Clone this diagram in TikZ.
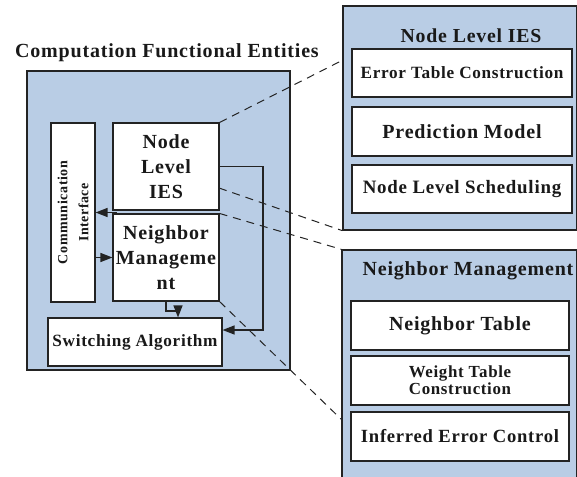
\documentclass[tikz,border=0pt]{standalone}
\usepackage{fontspec}
\setmainfont{Liberation Serif}[LetterSpace=4]
\usetikzlibrary{arrows.meta}
\definecolor{boxblue}{RGB}{185,205,229}
\definecolor{linegray}{RGB}{35,35,35}
\newcommand{\bsz}[1]{\fontsize{#1}{1.22\dimexpr #1pt\relax}\selectfont\bfseries}

\begin{document}
\begin{tikzpicture}[x=1pt,y=-1pt]
\tikzstyle{panel}=[draw=linegray, fill=boxblue, line width=1.3pt]
\tikzstyle{block}=[draw=linegray, fill=white, line width=1.1pt, align=center, inner sep=0pt, text=black!90]
\tikzstyle{caption}=[align=center, inner sep=0pt, text=black!90]
\tikzstyle{link}=[-{Triangle[length=12pt,width=9pt]}, line width=1.2pt, linegray]
\tikzstyle{zoom}=[dash pattern=on 8pt off 6pt, line width=1pt, linegray]

\useasboundingbox (0,0) rectangle (577,476);

\coordinate (cfe) at (158.5,220.5);
\coordinate (ci) at (73,212.5);
\coordinate (nli) at (166,166.5);
\coordinate (nm) at (166,257.5);
\coordinate (sw) at (135,342);

\coordinate (ies) at (460,118);
\coordinate (ies_etc) at (462,73);
\coordinate (ies_pm) at (462,131.5);
\coordinate (ies_nls) at (462,189);

\coordinate (nbm) at (459.5,370);
\coordinate (nbm_nt) at (460,325.5);
\coordinate (nbm_wtc) at (460,380.5);
\coordinate (nbm_iec) at (460,436.5);


% computation functional entities
\node[panel, minimum width=263pt, minimum height=299pt] (cfe) at (cfe) {};
\node[caption, font=\bsz{20}] (cfe_title) at (167,53) {Computation Functional Entities};

\node[block, minimum width=44pt, minimum height=179pt] (ci) at (ci) {};
\node[caption, rotate=90, font=\fontsize{14}{21}\selectfont\bfseries] (ci_text) at (ci) {Communication\\Interface};

\node[block, minimum width=106pt, minimum height=87pt, font=\fontsize{20}{25}\selectfont\bfseries] (nli) at (nli) {Node\\Level\\IES};
\node[block, minimum width=106pt, minimum height=87pt, font=\fontsize{20}{25}\selectfont\bfseries] (nm) at (nm) {Neighbor\\Manageme\\nt};
\node[block, minimum width=174pt, minimum height=48pt, font=\bsz{17.2}] (sw) at (sw) {Switching Algorithm};

% node level IES
\node[panel, minimum width=234pt, minimum height=224pt] (ies) at (ies) {};
\node[caption, font=\bsz{19.8}] (ies_title) at (471,36) {Node Level IES};
\node[block, minimum width=220pt, minimum height=48pt, font=\bsz{17.2}] (ies_etc) at (ies_etc) {Error Table Construction};
\node[block, minimum width=220pt, minimum height=49pt, font=\bsz{20}] (ies_pm) at (ies_pm) {Prediction Model};
\node[block, minimum width=220pt, minimum height=48pt, font=\bsz{18.9}] (ies_nls) at (ies_nls) {Node Level Scheduling};

% neighbor management
\node[panel, minimum width=235pt, minimum height=240pt] (nbm) at (nbm) {};
\node[caption, font=\bsz{20}] (nbm_title) at (468,271) {Neighbor Management};
\node[block, minimum width=218pt, minimum height=49pt, font=\bsz{20}] (nbm_nt) at (nbm_nt) {Neighbor Table};
\node[block, minimum width=218pt, minimum height=49pt, font=\fontsize{16.9}{17}\selectfont\bfseries] (nbm_wtc) at (nbm_wtc) {Weight Table\\Construction};
\node[block, minimum width=218pt, minimum height=49pt, font=\bsz{18.6}] (nbm_iec) at (nbm_iec) {Inferred Error Control};

% arrows inside the entities
\coordinate (bend) at (263,330);
\coordinate (gap) at (117,212.5);
\coordinate (elbow) at (178,311);

\draw[link] (nli.east) -| (bend) -- (bend -| sw.east);
\draw[link] (gap) -- (ci.east);
\draw[link] (ci.east |- nm.west) -- (nm.west);
\draw[link] (nm.south) |- (elbow) -- (elbow |- sw.north);

% dashed zoom lines
\coordinate (nli_out) at (219,188);
\coordinate (ies_in) at (343,60);
\coordinate (nbm_in) at (342,420);

\draw[zoom] (nli.north east) -- (ies_in);
\draw[zoom] (nli_out) -- (ies.south west);
\draw[zoom] (nm.north east) -- (nbm.north west);
\draw[zoom] (nm.south east) -- (nbm_in);

\end{tikzpicture}
\end{document}
